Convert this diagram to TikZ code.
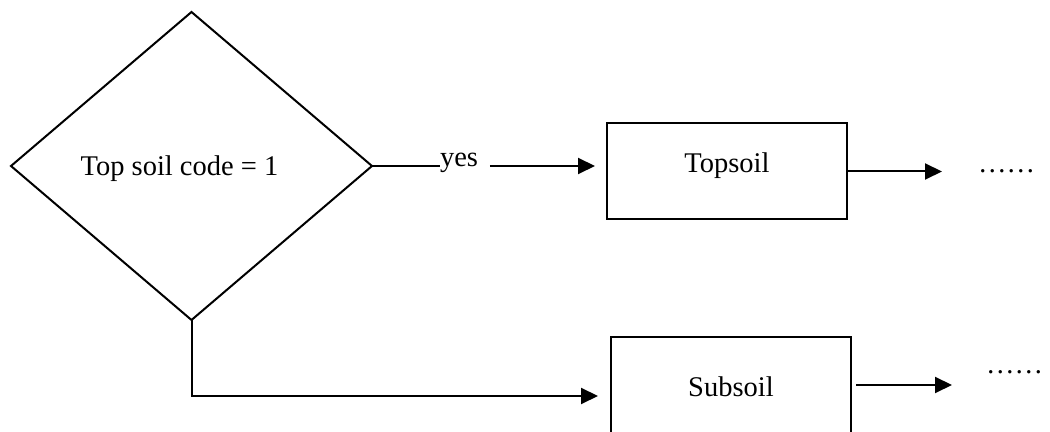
\documentclass[tikz,border=0pt]{standalone}
\usepackage{fontspec}
\setmainfont{Liberation Serif}
\usetikzlibrary{shapes.geometric,arrows.meta}
\tikzset{
  txt/.style={font=\fontsize{14.25pt}{17pt}\selectfont, inner sep=0pt, outer sep=0pt},
  decision/.style={txt, draw, diamond, line width=1pt, minimum width=180.5pt, minimum height=154pt},
  stepbox/.style={txt, draw, rectangle, line width=1pt, minimum width=120pt, minimum height=48pt},
  link/.style={line width=1pt},
  arr/.style={link, -{Triangle[length=8.5pt,width=8pt]}}
}
\begin{document}
\begin{tikzpicture}[x=0.5pt, y=-0.5pt]
  \useasboundingbox (0,0) rectangle (1050,432);

  % decision and the two outcome boxes
  \node[decision, text height=10pt, text depth=0pt] (dia) at (191.5,166) {\kern-12pt Top soil code = 1};
  \node[stepbox, text height=6.5pt, text depth=5pt] (top) at (727,171.5) {Topsoil};
  \node[stepbox, text height=12pt, text depth=0pt] (sub) at (731,385) {Subsoil};

  % branch label and continuation marks
  \node[txt, anchor=base west] (yes) at (440,167) {yes};
  \node[txt, anchor=base west] (dots1) at (978,173) {……};
  \node[txt, anchor=base west] (dots2) at (986,374) {……};

  % "yes" branch
  \draw[link] (dia.east) -- (dia.east -| yes.west);
  \draw[arr, shorten >=6pt] ([xshift=6pt]dia.east -| yes.east) -- (dia.east -| top.west);

  % "no" branch
  \coordinate (bend) at (dia.south |- 0,396);
  \draw[arr, shorten >=6.5pt] (dia.south) -- (bend) -- (bend -| sub.west);

  % continuation arrows
  \draw[arr, shorten >=18pt] (top.east) -- (top.east -| dots1.west);
  \draw[arr, shorten <=2.5pt, shorten >=17pt] (sub.east) -- (sub.east -| dots2.west);
\end{tikzpicture}
\end{document}
